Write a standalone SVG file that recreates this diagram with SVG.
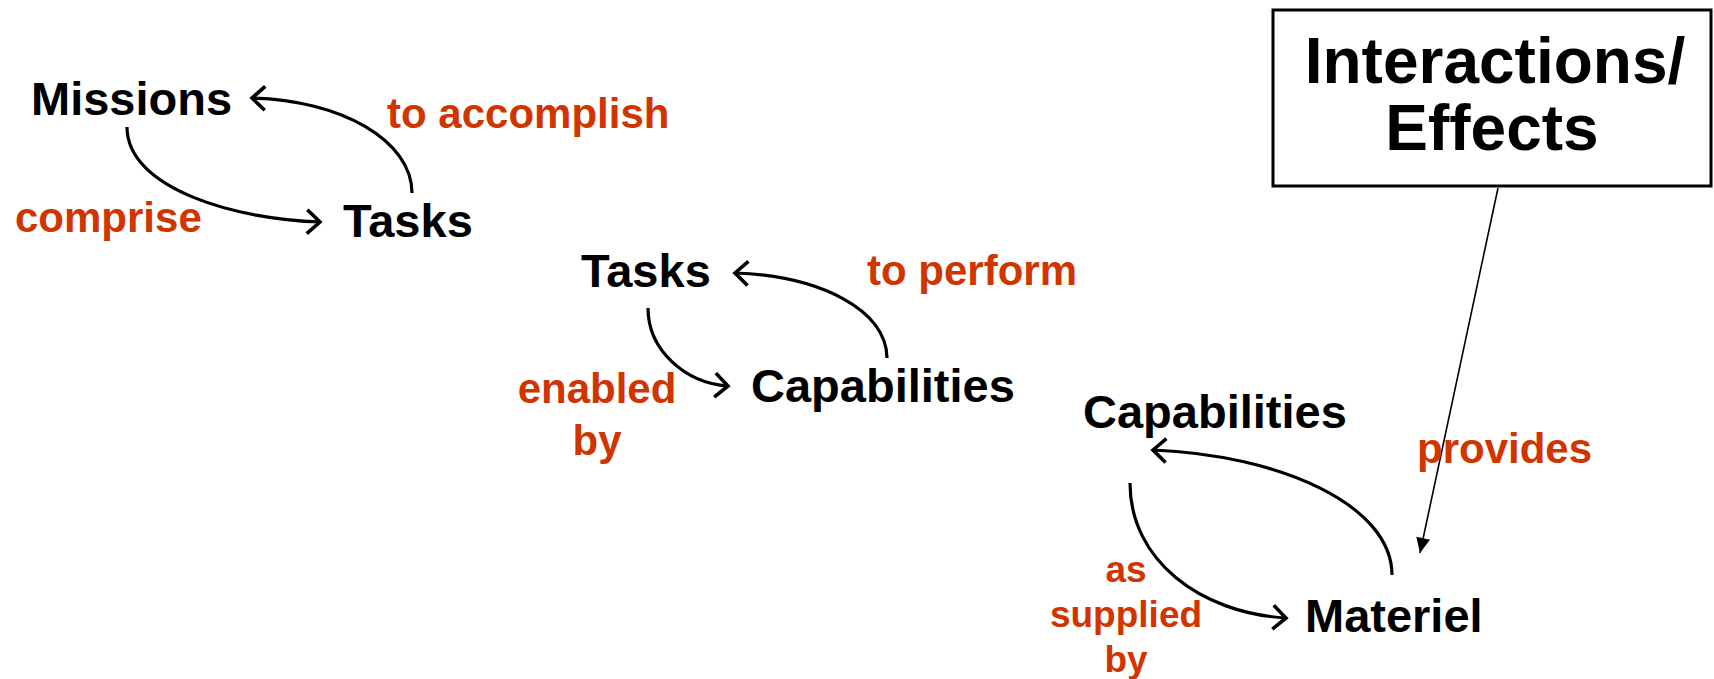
<svg xmlns="http://www.w3.org/2000/svg" width="1714" height="679" viewBox="0 0 1714 679">
<style>
.node{font-family:"Liberation Sans",Arial,sans-serif;font-weight:bold;font-size:47px;fill:#000}
.lbl{font-family:"Liberation Sans",Arial,sans-serif;font-weight:bold;font-size:42px;fill:#D03500}
.sm{font-size:37px}
.big{font-family:"Liberation Sans",Arial,sans-serif;font-weight:bold;font-size:64px;fill:#000}
.arc{fill:none;stroke:#000;stroke-width:3.2;marker-end:url(#open)}
.thin{fill:none;stroke:#000;stroke-width:1.6;marker-end:url(#solid)}
</style>
<defs>
<marker id="open" markerUnits="userSpaceOnUse" markerWidth="30" markerHeight="30" viewBox="-20 -15 25 30" refX="0" refY="0" orient="auto" overflow="visible">
<path d="M-13,-12 L0,0 L-13,12" fill="none" stroke="#000" stroke-width="3.6"/>
</marker>
<marker id="solid" markerUnits="userSpaceOnUse" markerWidth="30" markerHeight="30" viewBox="-20 -15 25 30" refX="0" refY="0" orient="auto" overflow="visible">
<path d="M-15,-7 L0,0 L-15,7 z" fill="#000"/>
</marker>
</defs>
<rect width="1714" height="679" fill="#fff"/>
<g id="connectors">
<path class="arc" d="M127,127 C127,190 240,220 320,222"/>
<path class="arc" d="M412,193 C412,140 340,100 252,98"/>
<path class="arc" d="M648,308 C648,350 685,383 728,386"/>
<path class="arc" d="M887,358 C887,310 820,276 735,273"/>
<path class="arc" d="M1130,483 C1130,560 1200,613 1286,618"/>
<path class="arc" d="M1392,575 C1392,505 1280,455 1153,450"/>
<path class="thin" d="M1498,188 L1420,553"/>
</g>
<g id="missions"><text class="node" x="31" y="115">Missions</text></g>
<g id="tasks1"><text class="node" x="343" y="237">Tasks</text></g>
<g id="tasks2"><text class="node" x="581" y="287">Tasks</text></g>
<g id="capabilities2"><text class="node" x="751" y="402">Capabilities</text></g>
<g id="capabilities3"><text class="node" x="1083" y="428">Capabilities</text></g>
<g id="materiel"><text class="node" x="1305" y="632">Materiel</text></g>
<g id="effects">
<rect x="1273" y="10" width="438" height="176" fill="#fff" stroke="#000" stroke-width="3"/>
<text class="big" x="1495" y="83" text-anchor="middle">Interactions/</text>
<text class="big" x="1492" y="150" text-anchor="middle">Effects</text>
</g>
<g id="labels">
<text class="lbl" x="15" y="232">comprise</text>
<text class="lbl" x="387" y="128">to accomplish</text>
<text class="lbl" x="867" y="285">to perform</text>
<text class="lbl" x="597" y="403" text-anchor="middle">enabled</text>
<text class="lbl" x="597" y="455" text-anchor="middle">by</text>
<text class="lbl sm" x="1126" y="582" text-anchor="middle">as</text>
<text class="lbl sm" x="1126" y="627" text-anchor="middle">supplied</text>
<text class="lbl sm" x="1126" y="672" text-anchor="middle">by</text>
<text class="lbl" x="1417" y="463">provides</text>
</g>
</svg>
